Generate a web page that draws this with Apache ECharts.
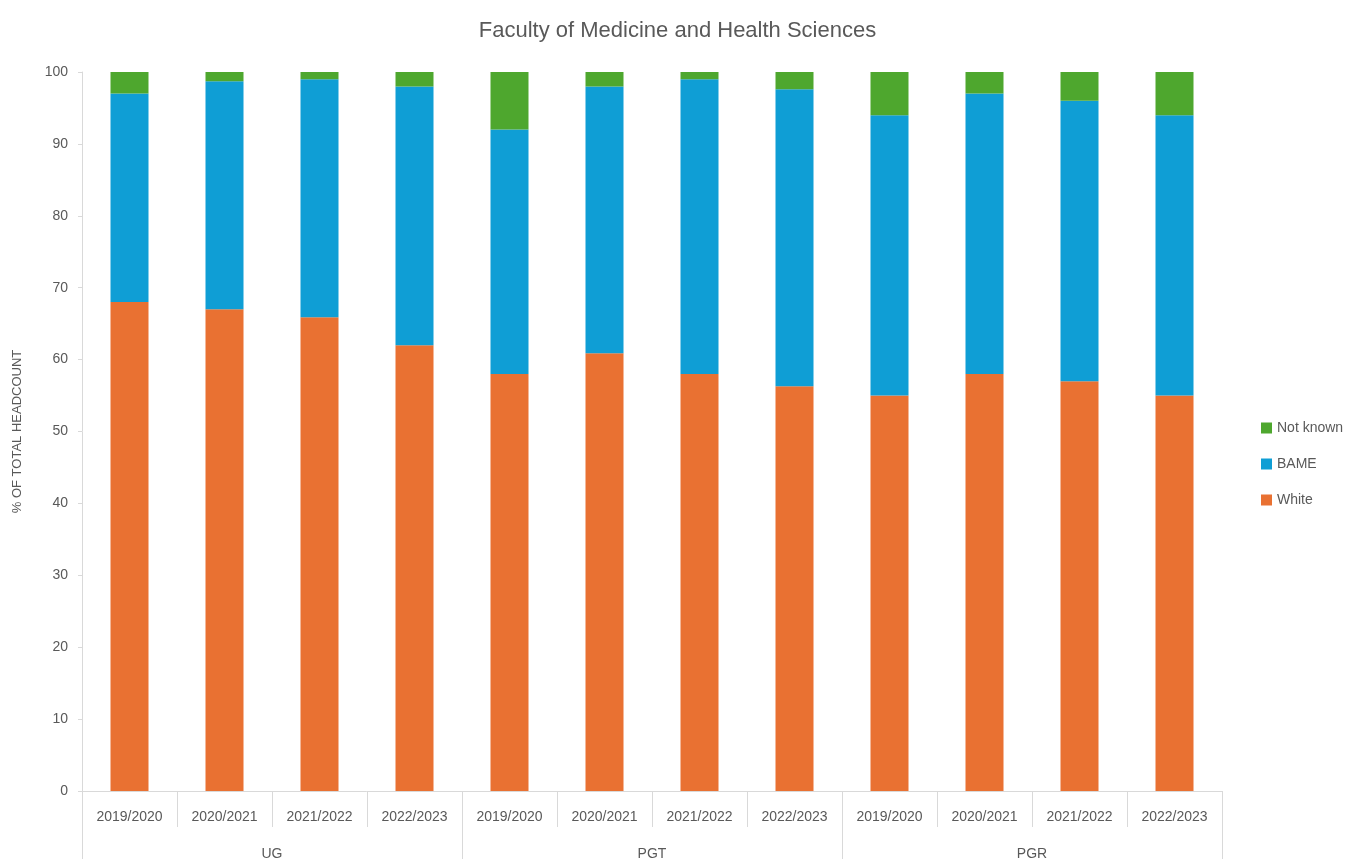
<!DOCTYPE html>
<html><head><meta charset="utf-8">
<script src="https://cdn.jsdelivr.net/npm/echarts@6/dist/echarts.min.js"></script>
<style>html,body{margin:0;padding:0;background:#fff}#c{width:1355px;height:861px}</style>
</head><body><div id="c"></div>
<script>
const years = ['2019/2020','2020/2021','2021/2022','2022/2023','2019/2020','2020/2021','2021/2022','2022/2023','2019/2020','2020/2021','2021/2022','2022/2023'];
const groups = ['UG','PGT','PGR'];
const white = [68, 67, 65.9, 62, 58, 60.9, 58, 56.3, 55, 58, 57, 55];
const bame = [29, 31.7, 33.1, 36, 34, 37.1, 41, 41.3, 39, 39, 39, 39];
const notKnown = [3, 1.3, 1, 2, 8, 2, 1, 2.4, 6, 3.2, 4.2, 6];
const yTicks = {min: 0, max: 100, interval: 10};

const font = 'Liberation Sans, Arial, sans-serif';
const gray = '#595959';
const chart = echarts.init(document.getElementById('c'));
chart.setOption({
  animation: false,
  title: {text: 'Faculty of Medicine and Health Sciences', left: 'center', top: 15,
    textStyle: {fontFamily: font, fontSize: 22, fontWeight: 'normal', color: gray}},
  legend: {orient: 'vertical', left: 1256, top: 416, itemWidth: 11, itemHeight: 11, itemGap: 22,
    icon: 'rect',
    data: ['Not known','BAME','White'],
    textStyle: {fontFamily: font, fontSize: 14, color: gray}},
  grid: {left: 82, right: 133, top: 72, bottom: 66, containLabel: false},
  xAxis: [
    {type: 'category', data: years, position: 'bottom',
     axisLine: {lineStyle: {color: '#d9d9d9'}},
     axisTick: {show: true, alignWithLabel: false, length: 36, lineStyle: {color: '#d9d9d9'}},
     axisLabel: {fontFamily: font, fontSize: 14, color: gray, margin: 19, interval: 0}},
    {type: 'category', data: groups, position: 'bottom',
     axisLine: {show: false},
     axisTick: {show: true, alignWithLabel: false, length: 68, lineStyle: {color: '#d9d9d9'}},
     axisLabel: {fontFamily: font, fontSize: 14, color: gray, margin: 56}}
  ],
  yAxis: {type: 'value', min: yTicks.min, max: yTicks.max, interval: yTicks.interval,
    name: '% OF TOTAL HEADCOUNT', nameLocation: 'middle', nameGap: 58, nameRotate: 90,
    nameTextStyle: {fontFamily: font, fontSize: 13, color: gray},
    axisLine: {show: true, lineStyle: {color: '#d9d9d9'}},
    axisTick: {show: true, length: 4, lineStyle: {color: '#d9d9d9'}},
    splitLine: {show: false},
    axisLabel: {fontFamily: font, fontSize: 14, color: gray, margin: 14}},
  series: [
    {name: 'White', type: 'bar', stack: 'a', data: white, barWidth: '40%', itemStyle: {color: '#E97132'}},
    {name: 'BAME', type: 'bar', stack: 'a', data: bame, barWidth: '40%', itemStyle: {color: '#0F9ED5'}},
    {name: 'Not known', type: 'bar', stack: 'a', data: notKnown, barWidth: '40%', itemStyle: {color: '#4EA72E'}}
  ]
});
</script></body></html>
